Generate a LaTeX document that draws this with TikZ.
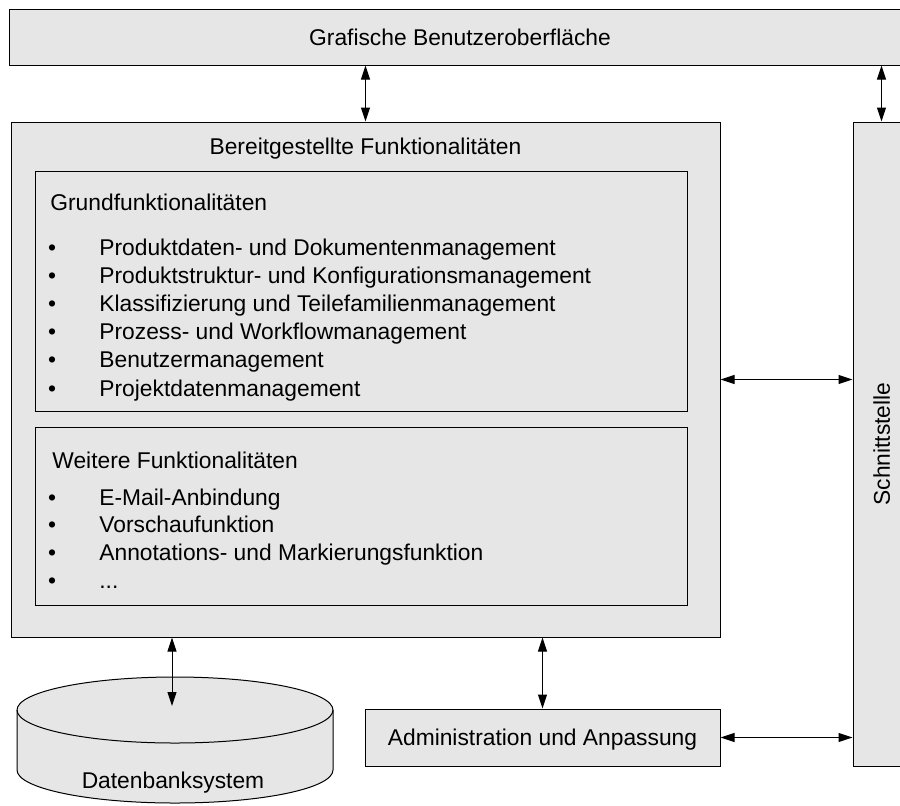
\documentclass[tikz,border=0pt]{standalone}
\usepackage{fontspec}
\setmainfont{Liberation Sans}
\usetikzlibrary{arrows.meta, positioning}
\definecolor{boxgray}{RGB}{230, 230, 230}

\begin{document}
\begin{tikzpicture}[x=0.5pt, y=-0.5pt,
        box/.style={draw=black, fill=boxgray, line width=0.5pt, inner sep=0pt},
        inbx/.style={draw=black, line width=0.5pt, inner sep=0pt},
        lbl/.style={font=\fontsize{11.4}{13}\selectfont, inner sep=0pt, text depth=0pt},
        bi/.style={{Triangle[length=7pt, width=4.5pt]}-{Triangle[length=7pt, width=4.5pt]}, line width=0.5pt}
      ]
        \fill[white] (0,0) rectangle (900,805);
        \useasboundingbox (0,0) rectangle (900,805);
        \clip (0,0) rectangle (900,805);
        \node[box, minimum width=451pt, minimum height=28pt] (gui) at (460,37) {};
        \node[lbl] (guitxt) at (gui.center) {Grafische Benutzeroberfläche};
        \node[box, minimum width=354.5pt, minimum height=257.5pt] (func) at (365.5,379.5) {};
        \node[lbl, anchor=base] (functxt) at (365.5,154) {Bereitgestellte Funktionalitäten};
        \node[inbx, minimum width=326pt, minimum height=120pt] (grund) at (361,291) {};
        \node[inbx, minimum width=326pt, minimum height=89pt] (weiter) at (361,516) {};
        \node[lbl, anchor=base west] (grundtxt) at (50,210) {Grundfunktionalitäten};
        \node[lbl, anchor=base west] (weitertxt) at (52,468) {Weitere Funktionalitäten};
        \foreach \t [count=\i] in {Produktdaten- und Dokumentenmanagement,
            Produktstruktur- und Konfigurationsmanagement,
            Klassifizierung und Teilefamilienmanagement,
            Prozess- und Workflowmanagement,
            Benutzermanagement,
            Projektdatenmanagement} {
          \node[lbl, anchor=base] (gb\i) at (52,255+28.2*\i-28.2) {•};
          \node[lbl, anchor=base west] (gi\i) at (99,255+28.2*\i-28.2) {\t};
        }
        \foreach \t [count=\i] in {E-Mail-Anbindung, Vorschaufunktion,
            Annotations- und Markierungsfunktion} {
          \node[lbl, anchor=base] (wb\i) at (52,505+27.7*\i-27.7) {•};
          \node[lbl, anchor=base west] (wi\i) at (99,505+27.7*\i-27.7) {\t};
        }
        \node[lbl, anchor=base] (wb4) at (52,588) {•};
        \node[lbl, anchor=base west] (wi4) at (99,588) {.{}.{}.};
        \node[box, minimum width=28.5pt, minimum height=322pt] (schnitt) at (881.5,444) {};
        \node[lbl, rotate=90] (schnitttxt) at (schnitt.center) {Schnittstelle};
        \node[box, minimum width=177.5pt, minimum height=28.5pt] (admin) at (542.5,737.5) {};
        \node[lbl] (admintxt) at (admin.center) {Administration und Anpassung};
        \draw[box] (17,710) -- (17,770) arc[start angle=180, end angle=0, x radius=158, y radius=33]
          -- (333,710) arc[start angle=0, end angle=-180, x radius=158, y radius=33] -- cycle;
        \draw[line width=0.5pt] (17,710) arc[start angle=180, end angle=0, x radius=158, y radius=33];
        \node[lbl] (db) at (173,780) {Datenbanksystem};
        \coordinate (dbtop) at (172,706);
        \draw[bi] (func.north |- gui.south) -- (func.north);
        \draw[bi] (schnitt.north |- gui.south) -- (schnitt.north);
        \draw[bi] (func.east) -- (func.east -| schnitt.west);
        \draw[bi] (func.south -| dbtop) -- (dbtop);
        \draw[bi] (admin.north |- func.south) -- (admin.north);
        \draw[bi] (admin.east) -- (admin.east -| schnitt.west);
      \end{tikzpicture}
\end{document}
